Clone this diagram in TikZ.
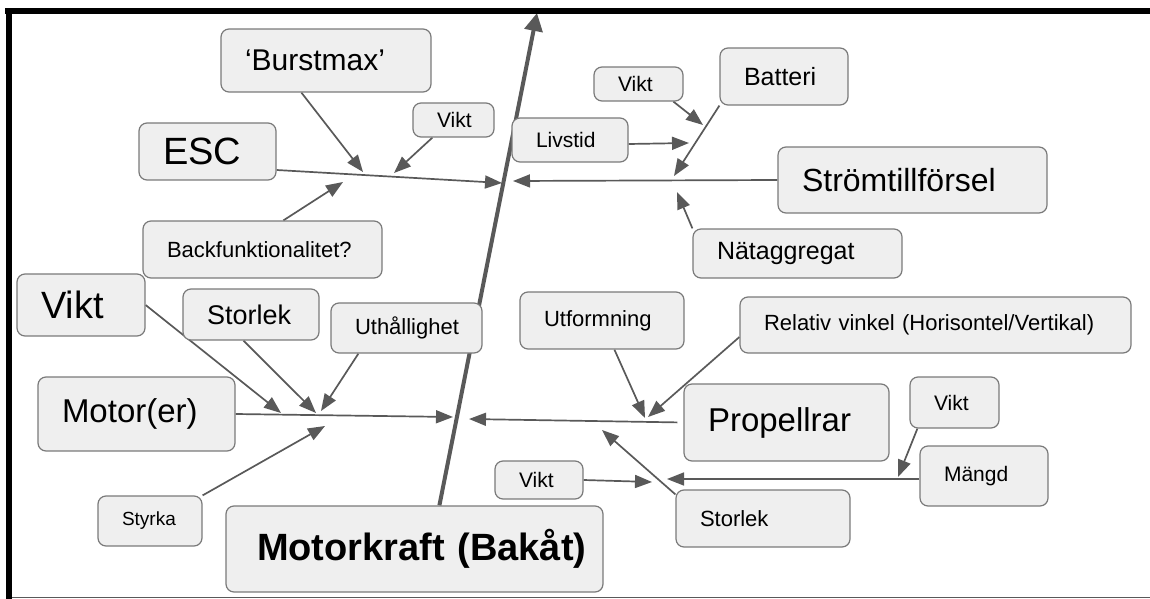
\documentclass[tikz,border=0pt]{standalone}
\usepackage{fontspec}
\setmainfont{Liberation Sans}
\usetikzlibrary{arrows.meta,backgrounds}
\definecolor{linegray}{HTML}{595959}
\definecolor{boxline}{HTML}{7A7A7A}
\definecolor{boxfill}{HTML}{EFEFEF}
\hfuzz=\maxdimen
\hbadness=10000
\begin{document}
\begin{tikzpicture}[
    x=1pt, y=-1pt,
    box/.style n args={3}{rectangle, draw=boxline, fill=boxfill, line width=1.2pt,
                rounded corners=8pt, minimum width=#1pt, minimum height=#2pt,
                text width=#1pt-48pt, inner xsep=24pt, inner ysep=0pt, align=left,
                font=\fontsize{#3}{#3}\selectfont},
    arrow/.style={line width=1.7pt, draw=linegray, -{Triangle[length=17pt,width=13pt]}},
    spine/.style={line width=4pt, draw=linegray, -{Triangle[length=18pt,width=18pt]}}
]
\useasboundingbox (0,0) rectangle (1150,599);

\node[box={210}{63}{30}] (burst) at (326,60.5) {‘Burstmax’};
\node[box={81}{34}{21}] (vikta) at (453.5,120) {Vikt};
\node[box={137}{57}{38}] (esc) at (207.5,151.5) {ESC};
\node[box={239}{57}{22}] (back) at (262.5,249.5) {Backfunktionalitet?};
\node[box={116}{44}{21}] (livstid) at (570,140) {Livstid};
\node[box={89}{34}{21}] (viktb) at (638.5,84) {Vikt};
\node[box={128}{57}{25}] (batteri) at (784,76.5) {Batteri};
\node[box={269}{66}{32}] (strom) at (912.5,180) {Strömtillförsel};
\node[box={209}{49}{25}] (nat) at (797.5,253.5) {Nätaggregat};
\node[box={128}{62}{38}] (viktm) at (81,305) {Vikt};
\node[box={136}{51}{27}] (storm) at (251,314.5) {Storlek};
\node[box={151}{50}{22}] (uth) at (406.5,328) {Uthållighet};
\node[box={197}{74}{33}] (motor) at (136.5,414) {Motor(er)};
\node[box={104}{50}{19}] (styrka) at (150,521) {Styrka};
\node[box={377}{86}{38}, inner xsep=31pt, text width=315pt,
      font=\fontsize{38}{38}\selectfont\bfseries] (mk) at (414.5,549) {\mbox{Motorkraft (Bakåt)}};
\node[box={88}{38}{21}] (viktp) at (539,480) {Vikt};
\node[box={164}{57}{22}] (utf) at (602,320.5) {Utformning};
\node[box={391}{56}{22}] (rel) at (935.5,325) {Relativ vinkel (Horisontel/Vertikal)};
\node[box={205}{77}{33}] (prop) at (786.5,422.5) {Propellrar};
\node[box={89}{51}{21}] (viktq) at (954.5,402.5) {Vikt};
\node[box={128}{60}{21}] (mangd) at (984,476) {Mängd};
\node[box={174}{57}{22}] (storp) at (763,518.5) {Storlek};

\coordinate (spinetop) at (537,13);
\coordinate (escend) at (502,183);
\coordinate (stromend) at (513,181);
\coordinate (motorend) at (453,417);
\coordinate (propend) at (469,419);
\coordinate (mangdend) at (667,479);
\coordinate (tburst) at (363,172);
\coordinate (tvikta) at (394,173);
\coordinate (tback) at (343,182);
\coordinate (tbatt) at (674,176);
\coordinate (tviktb) at (703,125);
\coordinate (tliv) at (689,143);
\coordinate (tnat) at (677,192);
\coordinate (tviktm) at (281,413);
\coordinate (tstorm) at (316,413);
\coordinate (tuth) at (321,411);
\coordinate (tstyrka) at (325,426);
\coordinate (tutf) at (645,418);
\coordinate (trel) at (648,417);
\coordinate (tstorp) at (602,430);
\coordinate (tviktq) at (898,477);
\coordinate (tviktp) at (652,482);

\begin{scope}[on background layer]
\draw[spine] ([xshift=214pt]mk.north west) -- (spinetop);
\draw[arrow] ([yshift=-18.5pt]esc.east) -- (escend);
\draw[arrow] (strom.west) -- (stromend);
\draw[arrow] (motor.east) -- (motorend);
\draw[arrow, shorten <=6pt] (prop.west) -- (propend);
\draw[arrow] ([yshift=-3pt]mangd.west) -- (mangdend);

\draw[arrow] ([xshift=81pt]burst.south west) -- (tburst);
\draw[arrow] ([xshift=20pt]vikta.south west) -- (tvikta);
\draw[arrow] ([xshift=141pt]back.north west) -- (tback);
\draw[arrow] (batteri.south west) -- (tbatt);
\draw[arrow] ([xshift=80pt]viktb.south west) -- (tviktb);
\draw[arrow] ([yshift=-4pt]livstid.east) -- (tliv);
\draw[arrow] (nat.north west) -- (tnat);
\draw[arrow] (viktm.east) -- (tviktm);
\draw[arrow] ([xshift=61pt]storm.south west) -- (tstorm);
\draw[arrow] ([xshift=28pt]uth.south west) -- (tuth);
\draw[arrow] (styrka.north east) -- (tstyrka);
\draw[arrow] ([xshift=95pt]utf.south west) -- (tutf);
\draw[arrow] ([yshift=-12pt]rel.west) -- (trel);
\draw[arrow] ([yshift=-5pt]storp.north west) -- (tstorp);
\draw[arrow] ([xshift=8pt]viktq.south west) -- (tviktq);
\draw[arrow] (viktp.east) -- (tviktp);
\end{scope}

\fill (5,8) rectangle (1150,14);
\fill (6,8) rectangle (12,599);
\draw[linegray, line width=1.2pt] (12,597.5) -- (1150,597.5);
\end{tikzpicture}
\end{document}
